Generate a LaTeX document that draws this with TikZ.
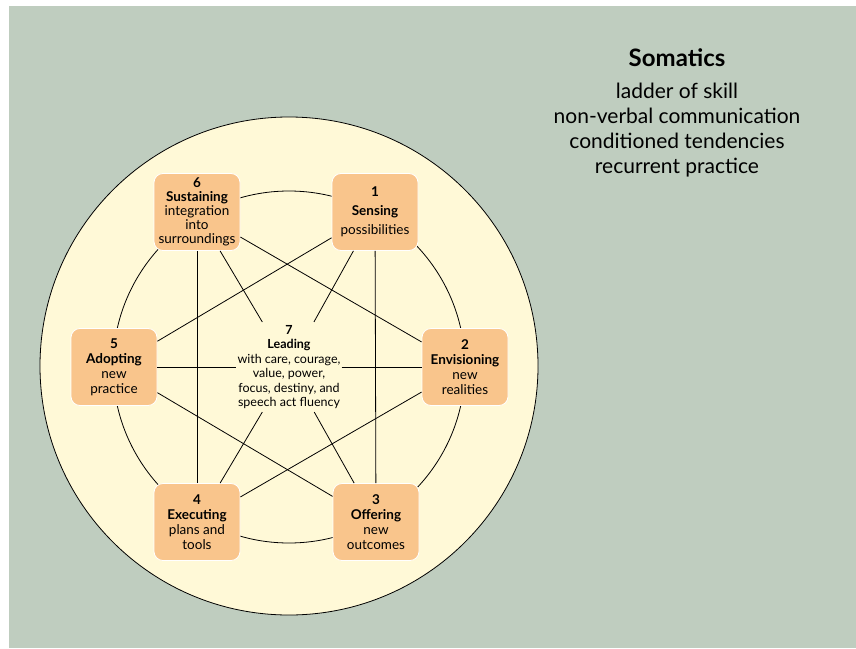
\documentclass[tikz,border=0pt]{standalone}
\usepackage{fontspec}
\setmainfont{Lato}
\usetikzlibrary{positioning}
\definecolor{sage}{RGB}{191,205,191}
\definecolor{cream}{RGB}{255,249,215}
\definecolor{apricot}{RGB}{249,197,140}
\tikzset{
  phase/.style={draw=white, line width=0.8pt, fill=apricot, rounded corners=9pt,
                minimum width=86pt, minimum height=77pt, inner sep=1pt,
                align=center, font=\fontsize{13.5}{15}\selectfont},
  hub/.style={fill=cream, inner xsep=1pt, inner ysep=3pt, align=center,
              font=\fontsize{12.5}{14.5}\selectfont},
  link/.style={line width=0.8pt},
}
\begin{document}
\begin{tikzpicture}[x=1pt,y=1pt]%{{{
\useasboundingbox (0,0) rectangle (856,-648);
%
% Fond
\fill [white] (0,0) rectangle (856,-648);
\fill [sage]  (9,-6) rectangle (856,-648);
%
% Cercles
\draw [fill=cream, line width=0.8pt] (289,-366) circle (249);
\draw [link] (289,-367) circle (176);
%
% Phases
\node [phase] (sensing)     at (375,-212) {\textbf{1}\\[4pt] \textbf{Sensing}\\[4pt] possibilities};
\node [phase] (envisioning) at (465,-367) {\textbf{2}\\ \textbf{Envisioning}\\ new\\ realities};
\node [phase] (offering)    at (376,-522) {\textbf{3}\\ \textbf{Offering}\\ new\\ outcomes};
\node [phase] (executing)   at (197,-522) {\textbf{4}\\ \textbf{Executing}\\ plans and\\ tools};
\node [phase] (adopting)    at (114,-367) {\textbf{5}\\ \textbf{Adopting}\\ new\\ practice};
\node [phase, font=\fontsize{13.5}{14}\selectfont] (sustaining) at (197,-212)
      {\textbf{6}\\ \textbf{Sustaining}\\ integration\\ into\\ surroundings};
\node [hub]   (leading)     at (289,-367) {\textbf{7}\\ \textbf{Leading}\\ with care, courage,\\ value, power,\\
                                           focus, destiny, and\\ speech act fluency};
%
% Liens
\foreach \a/\b in {sustaining/envisioning, envisioning/executing, executing/sustaining,
                   sensing/offering, offering/adopting, adopting/sensing,
                   sustaining/leading, sensing/leading, executing/leading, offering/leading,
                   adopting/leading, leading/envisioning}
  \draw [link] (\a) -- (\b);
%
% Somatique
\node [font=\bfseries\fontsize{24}{28}\selectfont, inner sep=0pt] (somatics) at (677,-58) {Somatics};
\node [below=16pt of somatics, align=center, inner sep=0pt, font=\fontsize{21}{25}\selectfont] (traits)
      {ladder of skill\\ non-verbal communication\\ conditioned tendencies\\ recurrent practice};
%
\end{tikzpicture}
\end{document}
